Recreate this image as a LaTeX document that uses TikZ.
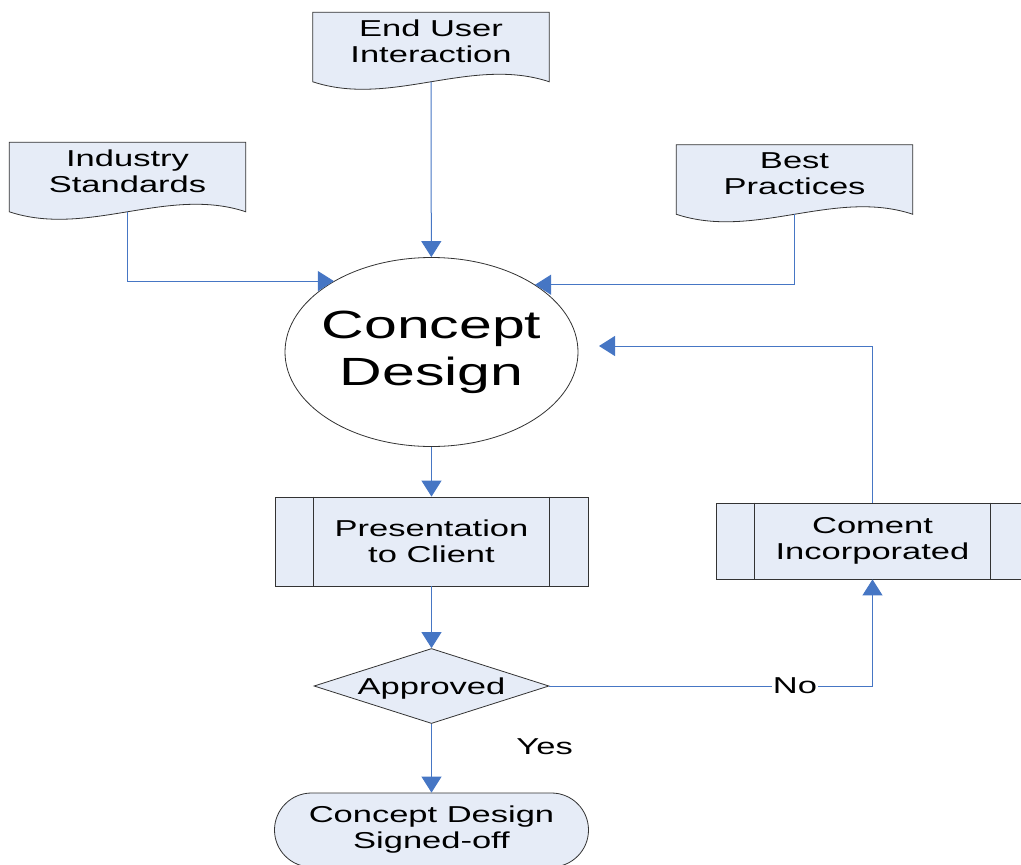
\documentclass[tikz,border=0pt]{standalone}
\usepackage{fontspec}
\setmainfont{Liberation Sans}[FakeStretch=1.5]
\usetikzlibrary{arrows.meta, calc, shapes.geometric, backgrounds}

\definecolor{shapefill}{RGB}{230,236,247}
\definecolor{linkblue}{RGB}{70,118,196}

\tikzset{
  every node/.style={font=\fontsize{17.25}{19.5}\selectfont, align=center},
  shapeline/.style={draw=black!80, line width=0.6pt},
  docnode/.style={rectangle, inner sep=0pt, minimum width=177pt, minimum height=43.5pt},
  procnode/.style={rectangle, shapeline, fill=shapefill, inner sep=0pt,
    minimum width=234.75pt, minimum height=66.75pt},
  concept/.style={ellipse, shapeline, fill=white, inner xsep=-10pt, inner ysep=0pt,
    minimum width=219.75pt, minimum height=141.75pt,
    font=\fontsize{29.5}{35.25}\selectfont},
  decision/.style={diamond, shapeline, fill=shapefill, aspect=3.13, inner sep=0pt,
    text depth=0pt, minimum width=176.25pt, minimum height=56.25pt},
  terminal/.style={rectangle, rounded corners=27.75pt, shapeline, fill=shapefill,
    minimum width=235.5pt, minimum height=55.5pt},
  link/.style={draw=linkblue, line width=0.75pt, -{Triangle[length=12pt,width=15pt]}}
}

\newcommand{\docoutline}[1]{%
  \begin{scope}[on background layer]
    \draw[shapeline, fill=shapefill] (#1.north west) -- (#1.north east) -- ($(#1.south east)+(0,11)$)
      .. controls ($(#1.south)+(40,-15)$) and ($(#1.south)+(-40,37)$) .. ($(#1.south west)+(0,11)$) -- cycle;
  \end{scope}
  \coordinate (#1-b) at ($(#1.south)+(0,11)$);}
\newcommand{\procbars}[1]{%
  \draw[shapeline] ([xshift=29.25pt]#1.north west) -- ([xshift=29.25pt]#1.south west);
  \draw[shapeline] ([xshift=-29.25pt]#1.north east) -- ([xshift=-29.25pt]#1.south east);}

\begin{document}
\begin{tikzpicture}[x=0.75pt, y=-0.75pt]
\useasboundingbox (0,0) rectangle (1021,864);

\node[docnode] (user) at (431,41.5) {End User\\Interaction};
\node[docnode] (industry) at (127.5,171.5) {Industry\\Standards};
\node[docnode] (best) at (794.5,174) {Best\\Practices};
\docoutline{user}
\docoutline{industry}
\docoutline{best}

\node[concept] (concept) at (431.5,352) {Concept\\Design};
\node[procnode] (present) at (431.5,541.5) {Presentation\\to Client};
\node[procnode, minimum height=57pt] (coment) at (872.5,541) {Coment\\Incorporated};
\procbars{present}
\procbars{coment}
\node[decision] (approved) at (431.5,686) {Approved};
\node[terminal] (signed) at (431.5,830) {Concept Design\\Signed-off};
\coordinate (back) at (599,346);

\draw[link] (user-b) -- (concept);
\draw[link] (industry-b) |- (concept.144);
\draw[link] (best-b) |- (concept.33);
\draw[link] (concept) -- (present);
\draw[link] (present) -- (approved);
\draw[link] (approved) -- node[pos=0.33, anchor=west, xshift=60pt] {Yes} (signed);
\draw[link] (approved) -| node[pos=0.38, fill=white, inner sep=1pt] {No} (coment);
\draw[link] (coment) |- (back);
\end{tikzpicture}
\end{document}
